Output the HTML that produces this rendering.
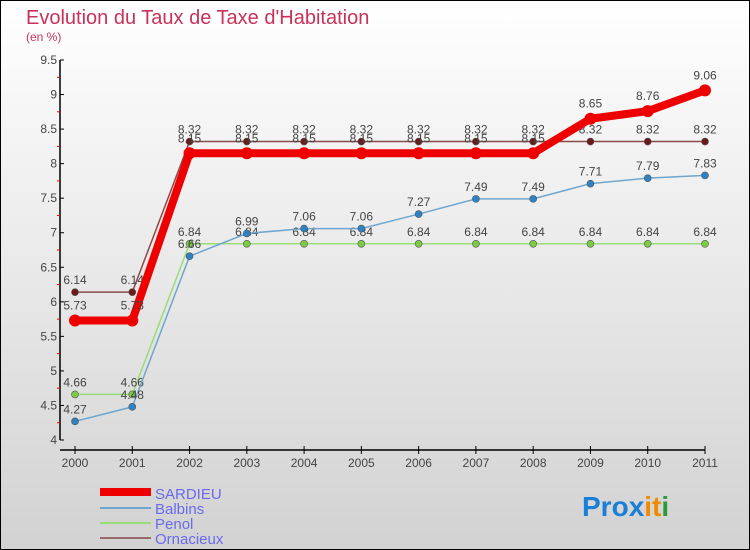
<!DOCTYPE html>
<html><head><meta charset="utf-8"><style>
html,body{margin:0;padding:0}
body{width:750px;height:550px;overflow:hidden;font-family:"Liberation Sans","DejaVu Sans",sans-serif}
svg{display:block}
</style></head><body>
<svg id="chart" width="750" height="550" xmlns="http://www.w3.org/2000/svg">
<defs><linearGradient id="bg" x1="0" y1="0" x2="0" y2="1"><stop offset="0" stop-color="#ffffff"/><stop offset="1" stop-color="#d2d2d2"/></linearGradient></defs>
<rect x="0.5" y="0.5" width="749" height="549" fill="url(#bg)" stroke="#000"/>
<text x="26" y="24" font-size="20" fill="#c8325a">Evolution du Taux de Taxe d'Habitation</text>
<text x="26" y="41" font-size="12" fill="#c8325a">(en %)</text>
<g id="axes"></g>
<g id="series"></g>
<g>
<rect x="100" y="488" width="51" height="8" fill="#ee0000"/>
<text x="155" y="499" font-size="15" fill="#6a6aee">SARDIEU</text>
<rect x="100" y="507" width="51" height="2" fill="#6fa6cf"/>
<text x="155" y="514" font-size="15" fill="#6a6aee">Balbins</text>
<rect x="100" y="522" width="51" height="2" fill="#99dd77"/>
<text x="155" y="529" font-size="15" fill="#6a6aee">Penol</text>
<rect x="100" y="537" width="51" height="2" fill="#9a6a6a"/>
<text x="155" y="544" font-size="15" fill="#6a6aee">Ornacieux</text>
</g>
<g font-size="28" font-weight="bold">
<text x="582" y="516"><tspan fill="#1a7fd6">Pro</tspan><tspan fill="#1a7fd6">x</tspan><tspan fill="#f08a00">it</tspan><tspan fill="#2a9a3a">i</tspan></text>
</g>
</svg>
<script>
const years=["2000","2001","2002","2003","2004","2005","2006","2007","2008","2009","2010","2011"];
const yTicks=[4,4.5,5,5.5,6,6.5,7,7.5,8,8.5,9,9.5];
const sardieu=[5.73,5.73,8.15,8.15,8.15,8.15,8.15,8.15,8.15,8.65,8.76,9.06];
const balbins=[4.27,4.48,6.66,6.99,7.06,7.06,7.27,7.49,7.49,7.71,7.79,7.83];
const penol=[4.66,4.66,6.84,6.84,6.84,6.84,6.84,6.84,6.84,6.84,6.84,6.84];
const ornacieux=[6.14,6.14,8.32,8.32,8.32,8.32,8.32,8.32,8.32,8.32,8.32,8.32];
const NS="http://www.w3.org/2000/svg";
function X(i){return 75+i*(705-75)/(years.length-1);}
function Y(v){return 440-(v-4)*(380/5.5);}
function mk(tag,attrs,parent){const e=document.createElementNS(NS,tag);for(const k in attrs)e.setAttribute(k,attrs[k]);parent.appendChild(e);return e;}
const ax=document.getElementById('axes');
const yl=mk('line',{x1:60,y1:60,x2:60,y2:440,stroke:'#000','stroke-width':1.5},ax);


yTicks.forEach(t=>{
  mk('line',{x1:60,y1:Y(t),x2:64,y2:Y(t),stroke:'#000'},ax);
  mk('line',{x1:57,y1:Y(t+0.25),x2:60,y2:Y(t+0.25),stroke:t<9.5?'#e00':'none'},ax);
  const tx=mk('text',{x:57,y:Y(t)+4,'font-size':12,'text-anchor':'end',fill:'#444'},ax);
  tx.textContent=String(t);
  
  
});
const xl=mk('line',{x1:60,y1:450,x2:705,y2:450,stroke:'#000','stroke-width':1.5},ax);


years.forEach((y,i)=>{
  mk('line',{x1:X(i),y1:446,x2:X(i),y2:454,stroke:'#000'},ax);
  const tx=mk('text',{x:X(i),y:467,'font-size':12,'text-anchor':'middle',fill:'#444'},ax);
  tx.textContent=y;
  
  
});
const sg=document.getElementById('series');
function series(data,name,color,dot,w,r){
  const g=mk('g',{},sg);
  
  
  mk('polyline',{points:data.map((v,i)=>X(i)+','+Y(v)).join(' '),fill:'none',stroke:color,'stroke-width':w},g);
  data.forEach((v,i)=>{
    const c=mk('circle',{cx:X(i),cy:Y(v),r:r,fill:dot,stroke:'#555','stroke-width':r>4?0:0.6},g);
    
    
    const t=mk('text',{x:X(i),y:Y(v)-(r>4?11:8),'font-size':12,'text-anchor':'middle',fill:'#444'},g);
    t.textContent=String(v);
    
    
  });
}
series(ornacieux,'ornacieux','#8a4a4a','#6a1a1a',1.5,3.5);
series(penol,'penol','#99dd77','#7acc44',1.5,3.5);
series(balbins,'balbins','#6fa6cf','#2e82c4',1.5,3.5);
series(sardieu,'sardieu','#ee0000','#ee0000',8,6);
</script>
</body></html>
